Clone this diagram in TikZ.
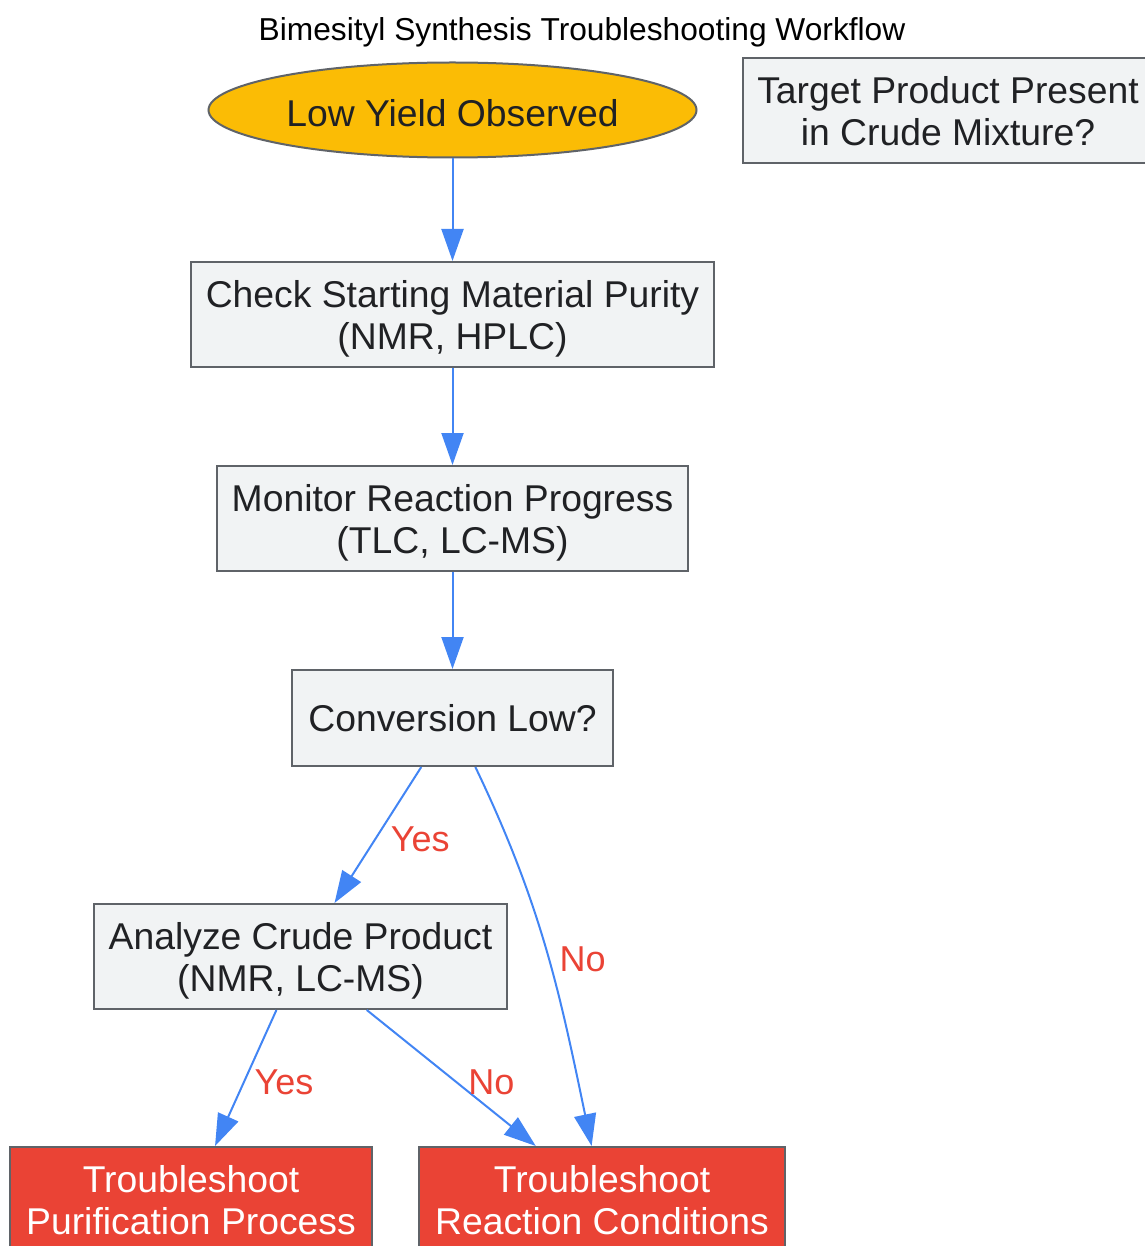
\documentclass[tikz,border=0pt]{standalone}
\usepackage{fontspec}
\setmainfont{Liberation Sans}
\usepackage{tikz}
\usetikzlibrary{shapes.geometric}
\usetikzlibrary{arrows.meta}

\definecolor{boxfill}{HTML}{F1F3F4}
\definecolor{boxline}{HTML}{5F6368}
\definecolor{boxtext}{HTML}{202124}
\definecolor{startfill}{HTML}{FBBC05}
\definecolor{endfill}{HTML}{EA4335}
\definecolor{flowline}{HTML}{4285F4}
\definecolor{labeltext}{HTML}{EA4335}

\tikzset{
	stepbox/.style={draw=boxline, line width=2pt, fill=boxfill, text=boxtext, rectangle, align=center,
		inner xsep=14.5pt, inner ysep=0pt, minimum height=105pt, text depth=0pt,
		font=\fontsize{37.3}{42}\selectfont},
	startnode/.style={draw=boxline, line width=2pt, fill=startfill, text=boxtext, ellipse, inner sep=0pt,
		minimum width=488pt, minimum height=95pt, text height=33pt, font=\fontsize{37.3}{42}\selectfont},
	endbox/.style={stepbox, fill=endfill, text=white, inner xsep=16pt},
	flow/.style={draw=flowline, line width=2pt, -{Triangle[length=32pt, width=22pt]}},
	flowlabel/.style={text=labeltext, font=\fontsize{36}{40}\selectfont, inner sep=4pt, yshift=-4pt}
}

\begin{document}
\begin{tikzpicture}[x=1pt, y=-1pt]
			\useasboundingbox (0,0) rectangle (1144,1246);
			\node[font=\fontsize{31.7}{36}\selectfont] (title) at (582,32.5) {Bimesityl Synthesis Troubleshooting Workflow};

			\node[startnode] (low) at (452.5,110) {Low Yield Observed};
			\node[stepbox] (check) at (452.5,314.5) {Check Starting Material Purity\\(NMR, HPLC)};
			\node[stepbox] (monitor) at (452.5,518.5) {Monitor Reaction Progress\\(TLC, LC-MS)};
			\node[stepbox, minimum height=96pt, minimum width=321pt] (conv) at (452.5,718) {Conversion Low?};
			\node[stepbox] (analyze) at (300.5,956.5) {Analyze Crude Product\\(NMR, LC-MS)};
			\node[stepbox] (target) at (948,110.5) {Target Product Present\\in Crude Mixture?};
			\node[endbox] (purif) at (191,1199.5) {Troubleshoot\\Purification Process};
			\node[endbox] (react) at (602,1199.5) {Troubleshoot\\Reaction Conditions};

			\draw[flow] (low) -- (check);
			\draw[flow] (check) -- (monitor);
			\draw[flow] (monitor) -- (conv);
			\draw[flow] (conv) -- node[flowlabel, right=8pt] (yes1) {Yes} (analyze);
			\draw[flow] (conv.-65) .. controls (542,906) and (560,994) .. node[flowlabel, right=8pt, yshift=-4pt] (no1) {No} (react.101);
			\draw[flow] (analyze) -- node[flowlabel, right=4pt] (yes2) {Yes} (purif);
			\draw[flow] (analyze) -- node[flowlabel, right=12pt] (no2) {No} (react);
        \end{tikzpicture}
\end{document}
